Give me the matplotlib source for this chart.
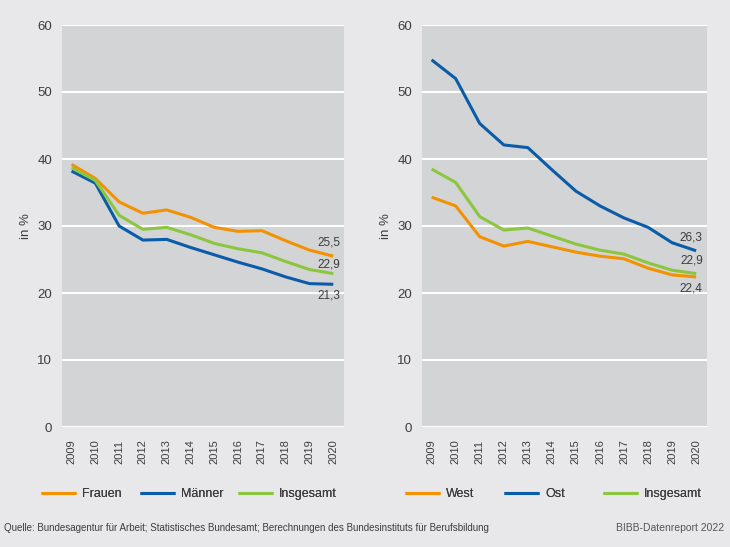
import matplotlib
matplotlib.use("Agg")
import matplotlib.pyplot as plt
from matplotlib.lines import Line2D

# Jahre und Werte (in %)
years = [2009, 2010, 2011, 2012, 2013, 2014, 2015, 2016, 2017, 2018, 2019, 2020]

frauen = [39.2, 37.1, 33.6, 31.9, 32.4, 31.3, 29.8, 29.2, 29.3, 27.8, 26.4, 25.5]
maenner = [38.2, 36.4, 30.0, 27.9, 28.0, 26.8, 25.7, 24.6, 23.6, 22.4, 21.4, 21.3]
insgesamt_l = [38.7, 36.8, 31.6, 29.5, 29.8, 28.7, 27.4, 26.6, 26.0, 24.7, 23.5, 22.9]

west = [34.3, 33.0, 28.4, 27.0, 27.7, 26.9, 26.1, 25.5, 25.1, 23.7, 22.7, 22.4]
ost = [54.8, 52.0, 45.3, 42.1, 41.7, 38.4, 35.2, 33.0, 31.2, 29.8, 27.5, 26.3]
insgesamt_r = [38.5, 36.5, 31.4, 29.4, 29.7, 28.5, 27.3, 26.4, 25.8, 24.5, 23.4, 22.9]

left_labels = ["Frauen", "Männer", "Insgesamt"]
right_labels = ["West", "Ost", "Insgesamt"]
left_end = ["25,5", "22,9", "21,3"]
right_end = ["26,3", "22,9", "22,4"]

ORANGE = "#f39200"
BLUE = "#0a5ca8"
GREEN = "#8cc63f"
BG = "#e8e8ea"
PANEL = "#d3d4d6"
TEXT = "#3c3c3c"

plt.rcParams["font.family"] = ["Liberation Sans", "DejaVu Sans"]

fig = plt.figure(figsize=(7.3, 5.47), dpi=100, facecolor=BG)
ax_l = fig.add_axes([62 / 730, 120 / 547, 282 / 730, 402 / 547])
ax_r = fig.add_axes([422 / 730, 120 / 547, 285 / 730, 402 / 547])


def style_axes(ax):
    ax.set_facecolor(PANEL)
    ax.set_ylim(0, 60)
    ax.set_xlim(2008.6, 2020.45)
    ax.set_yticks(range(0, 61, 10))
    ax.set_xticks(years)
    ax.set_xticklabels([str(y) for y in years], rotation=90)
    for s in ax.spines.values():
        s.set_visible(False)
    ax.yaxis.grid(True, color="white", linewidth=1.5)
    ax.set_axisbelow(True)
    ax.tick_params(length=0, colors=TEXT)
    ax.tick_params(axis="y", pad=7, labelsize=9.5)
    ax.tick_params(axis="x", pad=9, labelsize=8)
    ax.set_ylabel("in %", fontsize=9.5, color=TEXT, labelpad=4)


def draw_panel(ax, series, labels, end_texts, end_pos, legend_x):
    style_axes(ax)
    colors = [ORANGE, BLUE, GREEN]
    for vals, c in zip(series, colors):
        ax.plot(years, vals, color=c, linewidth=2.2, solid_capstyle="butt")
    for txt, y in zip(end_texts, end_pos):
        ax.text(2019.8, y, txt, ha="center", va="center", fontsize=8.5, color=TEXT)
    # Legende: je Eintrag eine eigene Legende, damit die Positionen passen
    for lab, c, lx in zip(labels, colors, legend_x):
        handle = Line2D([], [], color=c, linewidth=2.2, solid_capstyle="butt")
        leg = fig.legend([handle], [lab], loc="center left",
                         bbox_to_anchor=(lx / 730, 1 - 494 / 547),
                         frameon=False, borderpad=0, borderaxespad=0,
                         handlelength=2.8, handletextpad=0.5, fontsize=9,
                         labelcolor=TEXT)
        fig.add_artist(leg)


draw_panel(ax_l, [frauen, maenner, insgesamt_l], left_labels, left_end,
           [27.6, 24.3, 19.6], [41, 140, 238])
draw_panel(ax_r, [west, ost, insgesamt_r], right_labels, right_end,
           [28.3, 24.8, 20.7], [405, 504, 603])

fig.text(4 / 730, 1 - 528 / 547,
         "Quelle: Bundesagentur für Arbeit; Statistisches Bundesamt; Berechnungen des Bundesinstituts für Berufsbildung",
         ha="left", va="center", fontsize=7, color=TEXT)
fig.text(724 / 730, 1 - 528 / 547, "BIBB-Datenreport 2022", ha="right", va="center",
         fontsize=7.5, color="#555555")

fig.savefig("out.png", dpi=100, facecolor=BG)
